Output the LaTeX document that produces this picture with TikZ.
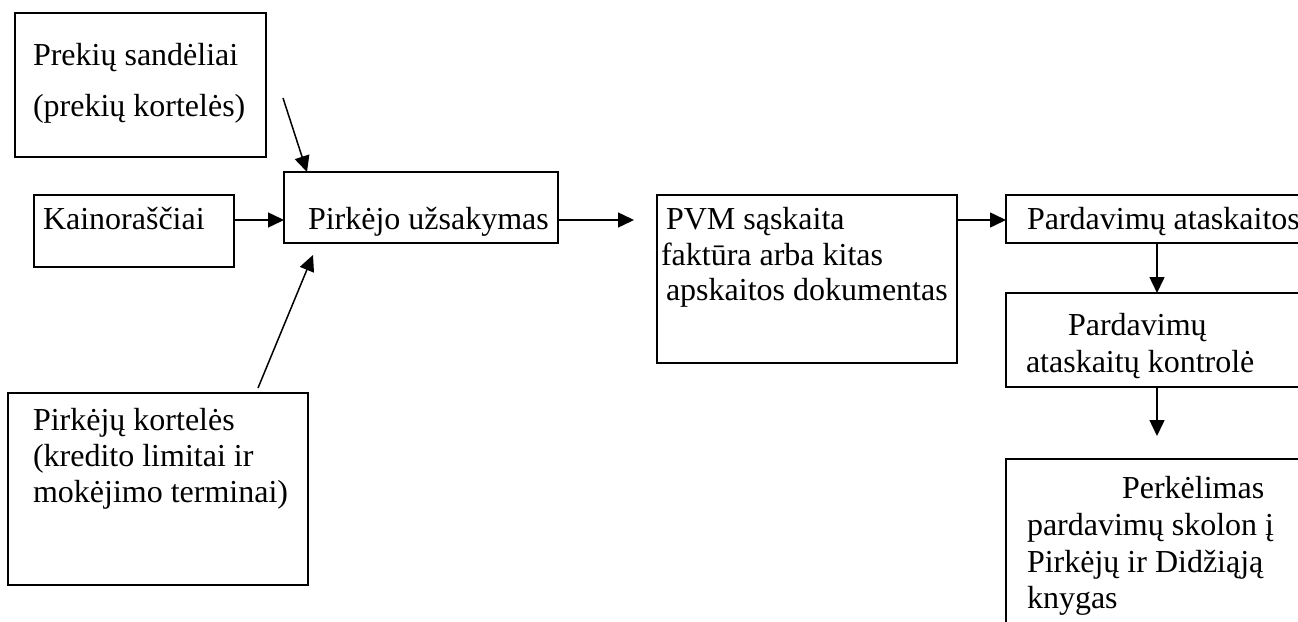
\documentclass[tikz,border=0pt]{standalone}
\usepackage{fontspec}
\setmainfont{Liberation Serif}
\usetikzlibrary{arrows.meta}
\begin{document}
\begin{tikzpicture}[x=1pt,y=-1pt,
  box/.style={draw, line width=1.6pt, inner sep=0pt, outer sep=0pt, anchor=north west},
  txt/.style={anchor=base west, inner sep=0pt, outer sep=0pt, font=\fontsize{32}{36}\selectfont},
  arr/.style={line width=1.5pt, -{Triangle[length=16pt,width=15pt]}}]
\useasboundingbox (0,0) rectangle (1298,621);
\clip (0,0) rectangle (1298,621);
% boxes
\node[box, minimum width=251pt, minimum height=144pt] (sand) at (15,13) {};
\node[box, minimum width=200pt, minimum height=72pt] (kain) at (34,195) {};
\node[box, minimum width=274pt, minimum height=71pt] (pirk) at (284,172) {};
\node[box, minimum width=300pt, minimum height=168pt] (pvm) at (657,195) {};
\node[box, minimum width=310pt, minimum height=48pt] (atask) at (1006,195) {};
\node[box, minimum width=310pt, minimum height=94pt] (kontr) at (1006,293) {};
\node[box, minimum width=310pt, minimum height=200pt] (perk) at (1006,459) {};
\node[box, minimum width=300pt, minimum height=192pt] (kort) at (8,393) {};
% texts
\node[txt] (t1a) at (33,65) {Prekių sandėliai};
\node[txt] (t1b) at (33,116) {(prekių kortelės)};
\node[txt] (t2) at (43,229) {Kainoraščiai};
\node[txt] (t3) at (308,229) {Pirkėjo užsakymas};
\node[txt] (t4a) at (666,229) {PVM sąskaita};
\node[txt] (t4b) at (661,265) {faktūra arba kitas};
\node[txt] (t4c) at (666,300) {apskaitos dokumentas};
\node[txt] (t5) at (1027,229) {Pardavimų ataskaitos};
\node[txt] (t6a) at (1068,335) {Pardavimų};
\node[txt] (t6b) at (1026,372) {ataskaitų kontrolė};
\node[txt] (t7a) at (1122,498) {Perkėlimas};
\node[txt] (t7b) at (1027,535) {pardavimų skolon į};
\node[txt] (t7c) at (1027,572) {Pirkėjų ir Didžiąją};
\node[txt] (t7d) at (1027,608) {knygas};
\node[txt] (t8a) at (33,430) {Pirkėjų kortelės};
\node[txt] (t8b) at (33,466) {(kredito limitai ir};
\node[txt] (t8c) at (33,502) {mokėjimo terminai)};
% connectors
\coordinate (s0) at (283,98);
\coordinate (s1) at (307,172);
\draw[arr] (s0) -- (s1);
\draw[arr] (kain.east |- 0,220) -- (pirk.west |- 0,220);
\coordinate (p1) at (634,220);
\draw[arr] (pirk.east |- 0,220) -- (p1);
\draw[arr] (pvm.east |- 0,220) -- (atask.west |- 0,220);
\draw[arr] (atask.south -| 1157,0) -- (kontr.north -| 1157,0);
\coordinate (k1) at (1157,436);
\draw[arr] (kontr.south -| 1157,0) -- (k1);
\coordinate (c0) at (258,388);
\coordinate (c1) at (313,255);
\draw[arr] (c0) -- (c1);
\end{tikzpicture}
\end{document}
